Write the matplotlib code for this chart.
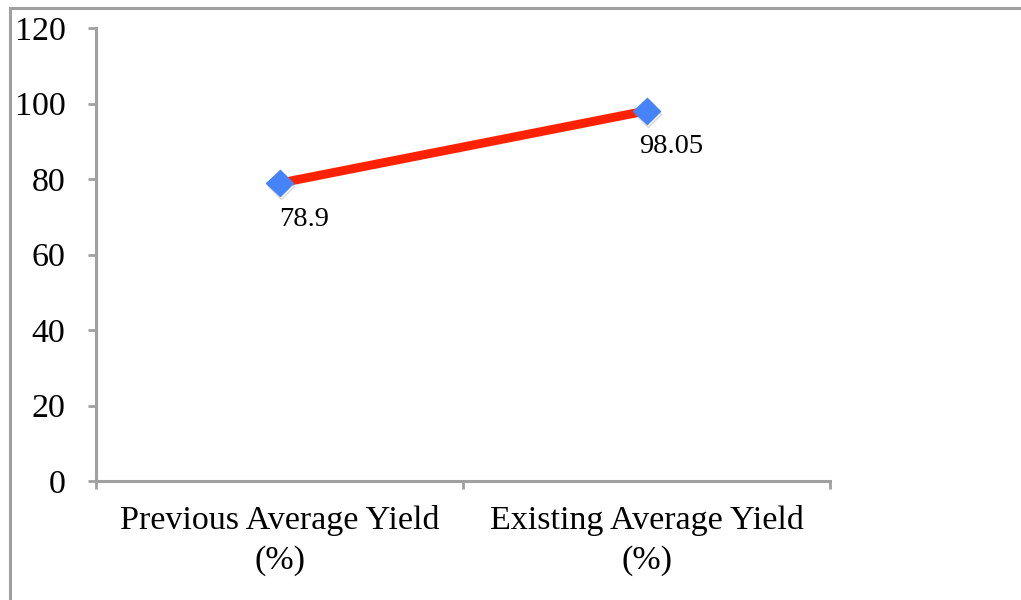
import matplotlib
matplotlib.use("Agg")
import matplotlib.pyplot as plt
from matplotlib.lines import Line2D
import matplotlib.patheffects as pe

categories = ["Previous Average Yield\n(%)", "Existing Average Yield\n(%)"]
yield_values = [78.9, 98.05]
value_labels = ["78.9", "98.05"]
y_ticks = [0, 20, 40, 60, 80, 100, 120]

plt.rcParams["font.family"] = ["Liberation Serif", "DejaVu Serif"]

W, H = 1021, 600
fig = plt.figure(figsize=(W / 100, H / 100), dpi=100)

# Outer chart frame (left and top edges visible)
frame_color = "#a0a0a0"
fig.add_artist(Line2D([9.5 / W, 9.5 / W], [0, 1 - 8 / H], transform=fig.transFigure,
                      color=frame_color, lw=2.2))
fig.add_artist(Line2D([9.5 / W, 1], [1 - 8 / H, 1 - 8 / H], transform=fig.transFigure,
                      color=frame_color, lw=2.2))

ax = fig.add_axes([96 / W, (H - 481) / H, (830 - 96) / W, (481 - 28) / H])

x = [0.5, 1.5]
ax.plot(x, yield_values, color="#ff2200", lw=6.4, solid_capstyle="butt", zorder=2)
ax.plot(x, yield_values, linestyle="none", marker="D", markersize=13.5,
        markerfacecolor="#4683f8", markeredgecolor="#4683f8", zorder=3,
        path_effects=[pe.SimpleLineShadow(offset=(1.2, -2.0), shadow_color="#909090", alpha=0.35),
                      pe.Normal()])

for xi, yi, lab in zip(x, yield_values, value_labels):
    ax.annotate(lab, (xi, yi), xytext=(18, -26), textcoords="offset points",
                ha="center", va="center", fontsize=20.5, color="black")

ax.set_xlim(0, 2)
ax.set_ylim(0, 120)
ax.set_yticks(y_ticks)
ax.set_yticklabels([str(t) for t in y_ticks], fontsize=24.5)
ax.set_xticks([0, 1, 2])
ax.set_xticklabels([])
ax.set_xticks(x, minor=True)
ax.set_xticklabels(categories, minor=True, fontsize=24.5, linespacing=1.4)
ax.tick_params(axis="x", which="minor", length=0, pad=17)
ax.tick_params(axis="x", which="major", length=6, width=2, color=frame_color, direction="out")
ax.tick_params(axis="y", length=6, width=2, color=frame_color, direction="out", pad=16)

for side in ["top", "right"]:
    ax.spines[side].set_visible(False)
for side in ["left", "bottom"]:
    ax.spines[side].set_color(frame_color)
    ax.spines[side].set_linewidth(2.2)

fig.savefig("out.png", dpi=100)
